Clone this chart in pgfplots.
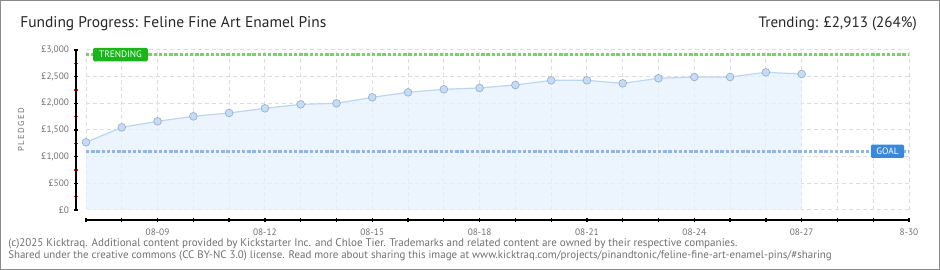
\documentclass[border=0pt]{standalone}
\usepackage{fontspec}
\setmainfont{PT Sans}
\usepackage{pgfplots}
\pgfplotsset{compat=1.18}
\definecolor{gridc}{HTML}{DDDDDD}
\definecolor{labc}{HTML}{707070}
\definecolor{fillb}{HTML}{E6F0FC}
\definecolor{lineb}{HTML}{BCD6F2}
\definecolor{markf}{HTML}{C4DCF6}
\definecolor{marke}{HTML}{98AECB}
\definecolor{trendg}{HTML}{7CCF6E}
\definecolor{trendbox}{HTML}{19B519}
\definecolor{goalb}{HTML}{8DB7E8}
\definecolor{goalbox}{HTML}{3C87D6}
\definecolor{bord}{HTML}{8A8A8A}
\begin{document}
\begin{tikzpicture}[x=0.75pt,y=0.75pt]
\path[use as bounding box] (0,0) rectangle (940,270);
\draw[bord, line width=0.9pt] (0.6,0.6) rectangle (939.4,269.4);
\begin{axis}[
  at={(64.5pt,45pt)}, anchor=south west,
  scale only axis, width=617.25pt, height=120pt,
  xmin=0, xmax=23, ymin=0, ymax=3000,
  axis lines=left,
  axis line style={-, black, line width=1.2pt},
  axis x line shift=7.5pt, axis y line shift=7.5pt,
  xtick={0,...,23},
  xticklabels={,,08-09,,,08-12,,,08-15,,,08-18,,,08-21,,,08-24,,,08-27,,,8-30},
  ytick={0,500,...,3000},
  yticklabels={{£0},{£500},{£1,000},{£1,500},{£2,000},{£2,500},{£3,000}},
  minor ytick={250,750,...,2750},
  grid=major,
  major grid style={gridc, line width=0.75pt, dash pattern=on 3pt off 2.25pt},
  tick align=center,
  major tick length=3.5pt, minor tick length=2.5pt,
  major tick style={black, line width=1pt},
  minor tick style={red, line width=1pt},
  ticklabel style={font=\fontsize{7}{8}\selectfont, text=labc},
  xticklabel style={yshift=-1pt},
  clip=false,
]
\addplot[draw=none, fill=fillb, fill opacity=0.75] coordinates {
(0,1269) (1,1550) (2,1663) (3,1756) (4,1819) (5,1906) (6,1981) (7,2000)
(8,2113) (9,2206) (10,2263) (11,2288) (12,2344) (13,2431) (14,2431)
(15,2375) (16,2469) (17,2494) (18,2494) (19,2581) (20,2550)} \closedcycle;
\addplot[trendg, line width=2pt, dash pattern=on 2.6pt off 1.3pt] coordinates {(0,2913) (23,2913)};
\addplot[goalb, line width=2pt, dash pattern=on 2.6pt off 1.3pt] coordinates {(0,1100) (23,1100)};
\addplot[lineb, line width=0.9pt, mark=*, mark size=2.9pt,
  mark options={fill=markf, draw=marke, line width=0.5pt}] coordinates {
(0,1269) (1,1550) (2,1663) (3,1756) (4,1819) (5,1906) (6,1981) (7,2000)
(8,2113) (9,2206) (10,2263) (11,2288) (12,2344) (13,2431) (14,2431)
(15,2375) (16,2469) (17,2494) (18,2494) (19,2581) (20,2550)};
\node[fill=trendbox, text=white, rounded corners=1pt, minimum width=41pt, minimum height=10pt, inner sep=0pt,
  font=\fontsize{7}{8}\selectfont] at (axis cs:0.964,2913) {TRENDING};
\node[fill=goalbox, text=white, rounded corners=1pt, minimum width=25pt, minimum height=10pt, inner sep=0pt,
  font=\fontsize{7}{8}\selectfont] at (axis cs:22.4,1100) {GOAL};
\node[rotate=90, text=labc, font=\fontsize{6.5}{7}\selectfont] at ([xshift=-48.75pt]axis description cs:0,0.5) {P\,L\,E\,D\,G\,E\,D};
\end{axis}
\node[anchor=base west, text=black!85, font=\fontsize{11.6}{14}\selectfont, inner sep=0pt] at (20,242) {Funding Progress: Feline Fine Art Enamel Pins};
\node[anchor=base east, text=black!85, font=\fontsize{11.3}{14}\selectfont, inner sep=0pt] at (917,242) {Trending: £2,913 (264\%)};
\node[anchor=base west, text=labc, font=\fontsize{8.3}{9}\selectfont, inner sep=0pt] at (8,23.5) {(c)2025 Kicktraq. Additional content provided by Kickstarter Inc. and Chloe Tier. Trademarks and related content are owned by their respective companies.};
\node[anchor=base west, text=labc, font=\fontsize{8.2}{9}\selectfont, inner sep=0pt] at (8,11) {Shared under the creative commons (CC BY-NC 3.0) license. Read more about sharing this image at www.kicktraq.com/projects/pinandtonic/feline-fine-art-enamel-pins/\#sharing};
\end{tikzpicture}
\end{document}
